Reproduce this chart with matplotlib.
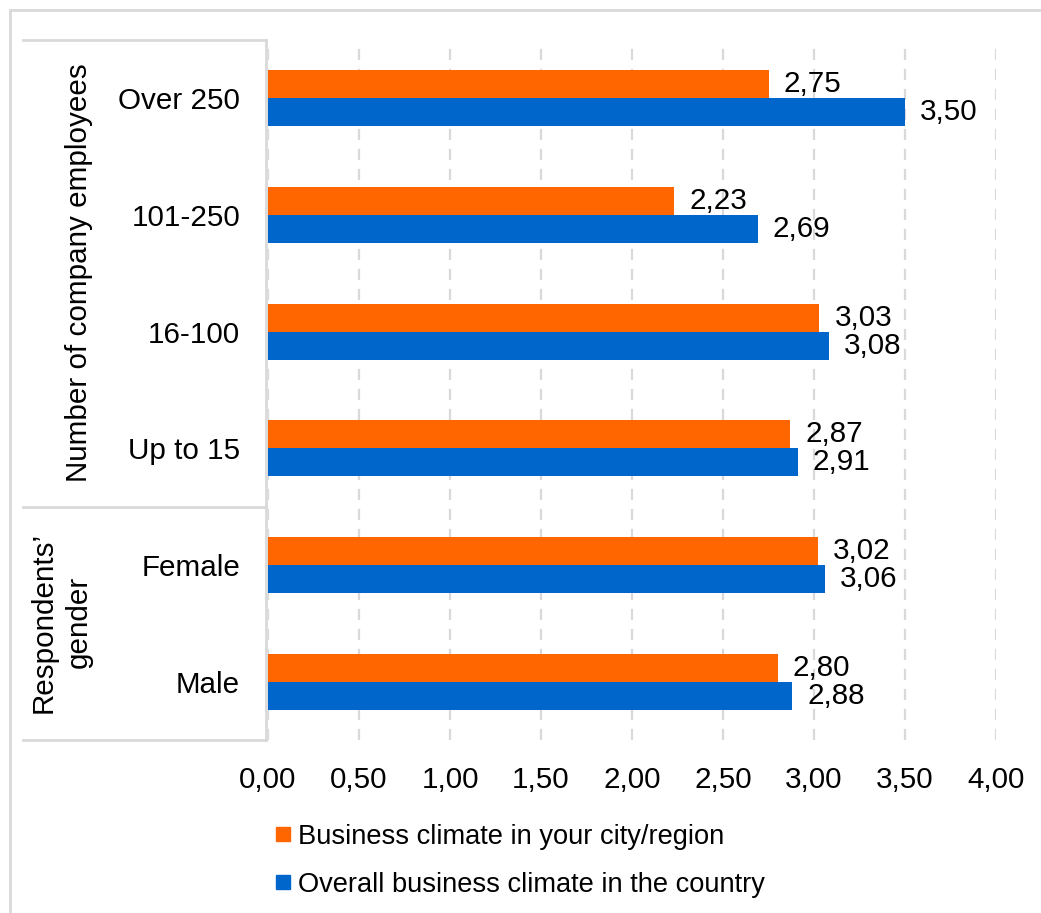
import matplotlib
matplotlib.use("Agg")
import matplotlib.pyplot as plt
from matplotlib.lines import Line2D
from matplotlib.patches import Rectangle
import numpy as np

# Chart configuration
ORANGE = '#FF6600'
BLUE = '#0066CC'
GRID = '#D9D9D9'
FS = 21.3
FS_LEG = 19.6
plt.rcParams['font.family'] = ['Liberation Sans', 'DejaVu Sans']

W, H = 1041, 913

# Data (top to bottom)
categories = ['Over 250', '101-250', '16-100', 'Up to 15', 'Female', 'Male']
city_region = [2.75, 2.23, 3.03, 2.87, 3.02, 2.80]
country = [3.50, 2.69, 3.08, 2.91, 3.06, 2.88]
series_names = ['Business climate in your city/region',
                'Overall business climate in the country']
x_ticks = [0.0, 0.5, 1.0, 1.5, 2.0, 2.5, 3.0, 3.5, 4.0]

def fx(px):
    return px / W

def fy(py):
    return 1 - py / H

fig = plt.figure(figsize=(W / 100, H / 100), dpi=100)
ax = fig.add_axes([fx(268), fy(740), fx(996) - fx(268), fy(40) - fy(740)])

y = np.arange(len(categories))
h = 0.24
b1 = ax.barh(y - h / 2, city_region, height=h, color=ORANGE)
b2 = ax.barh(y + h / 2, country, height=h, color=BLUE)

fmt = lambda v: f'{v:.2f}'.replace('.', ',')
ax.bar_label(b1, labels=[fmt(v) for v in city_region], padding=11, fontsize=FS)
ax.bar_label(b2, labels=[fmt(v) for v in country], padding=11, fontsize=FS)

ax.set_xlim(0, 4)
ax.set_ylim(len(categories) - 0.5, -0.5)
ax.set_xticks(x_ticks)
ax.set_xticklabels([fmt(v) for v in x_ticks], fontsize=FS)
ax.set_yticks(y)
ax.set_yticklabels(categories, fontsize=FS)
ax.tick_params(axis='both', length=0)
ax.tick_params(axis='x', pad=19)
ax.tick_params(axis='y', pad=20)
for s in ax.spines.values():
    s.set_visible(False)
ax.set_axisbelow(True)
ax.xaxis.grid(True, color=GRID, linestyle=(0, (5, 4)), linewidth=1.6)

# Outer border and group boxes
fig.patches.append(Rectangle((fx(10), fy(H + 20)), 1.2, fy(10) - fy(H + 20),
                             transform=fig.transFigure, fill=False,
                             edgecolor=GRID, linewidth=2))
for (x0, y0, x1, y1) in [(23, 40, 266, 40), (23, 507, 266, 507),
                         (23, 740, 266, 740), (266, 40, 266, 740)]:
    fig.add_artist(Line2D([fx(x0), fx(x1)], [fy(y0), fy(y1)],
                          color=GRID, linewidth=2))

fig.text(fx(79), fy(273), 'Number of company employees', rotation=90,
         ha='center', va='center', fontsize=FS)
fig.text(fx(61), fy(622), 'Respondents\u2019\ngender', rotation=90,
         ha='center', va='center', fontsize=FS, multialignment='center',
         linespacing=1.3)

# Legend
handles = [Line2D([], [], marker='s', color=c, linestyle='None', markersize=10.5)
           for c in (ORANGE, BLUE)]
fig.legend(handles, series_names, loc='upper left',
           bbox_to_anchor=(fx(264), fy(813)), frameon=False, fontsize=FS_LEG,
           handlelength=0.6, handletextpad=0.25, labelspacing=0.8,
           borderaxespad=0)

fig.savefig('out.png', dpi=100)
